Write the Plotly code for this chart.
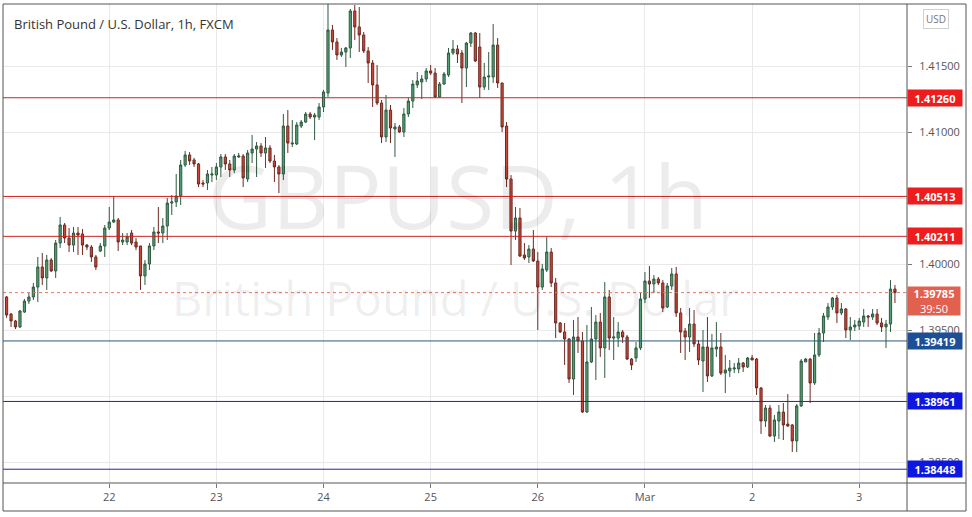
import plotly.graph_objects as go

# ---------------- data (GBPUSD 1h candles) ----------------
opens = [1.39752,1.39623,1.39570,1.39525,1.39638,1.39721,1.39752,1.39827,1.39979,1.39896,
1.40032,1.39949,1.40160,1.40297,1.40198,1.40145,1.40236,1.40229,1.40145,1.40130,
1.40055,1.40100,1.40138,1.40274,1.40319,1.40335,1.40168,1.40168,1.40236,1.40168,
1.40138,1.39911,1.40002,1.40138,1.40244,1.40236,1.40289,1.40463,1.40471,1.40516,
1.40751,1.40827,1.40789,1.40759,1.40615,1.40615,1.40675,1.40675,1.40736,1.40812,
1.40759,1.40713,1.40812,1.40819,1.40645,1.40842,1.40872,1.40895,1.40842,1.40880,
1.40781,1.40736,1.40683,1.41046,1.40910,1.40910,1.41046,1.41076,1.41137,1.41114,
1.41114,1.41190,1.41296,1.41773,1.41682,1.41584,1.41606,1.41637,1.41917,1.41796,
1.41735,1.41614,1.41523,1.41357,1.41220,1.40963,1.41167,1.41023,1.41039,1.41001,
1.41137,1.41235,1.41357,1.41379,1.41402,1.41463,1.41447,1.41266,1.41364,1.41432,
1.41599,1.41629,1.41599,1.41485,1.41674,1.41750,1.41644,1.41341,1.41417,1.41417,
1.41659,1.41372,1.41046,1.40645,1.40251,1.40350,1.40070,1.40055,1.40115,1.40024,
1.39827,1.39956,1.40092,1.39858,1.39555,1.39487,1.39434,1.39131,1.39449,1.39419,
1.38881,1.39260,1.39434,1.39562,1.39366,1.39752,1.39441,1.39441,1.39487,1.39449,
1.39282,1.39290,1.39366,1.39737,1.39873,1.39850,1.39888,1.39858,1.39676,1.39835,
1.39926,1.39631,1.39494,1.39449,1.39547,1.39396,1.39267,1.39373,1.39154,1.39358,
1.39373,1.39176,1.39192,1.39207,1.39207,1.39252,1.39222,1.39290,1.39282,1.39063,
1.38813,1.38911,1.38699,1.38813,1.38881,1.38790,1.38783,1.38662,1.38927,1.39260,
1.39282,1.39101,1.39313,1.39479,1.39600,1.39676,1.39744,1.39631,1.39661,1.39502,
1.39525,1.39532,1.39562,1.39608,1.39600,1.39623,1.39555,1.39525,1.39547,1.39812]

highs = [1.39759,1.39631,1.39578,1.39653,1.39737,1.39782,1.39858,1.40055,1.40085,1.40070,
1.40047,1.40183,1.40357,1.40312,1.40274,1.40282,1.40282,1.40266,1.40153,1.40145,
1.40070,1.40160,1.40297,1.40433,1.40516,1.40350,1.40236,1.40236,1.40259,1.40198,
1.40138,1.40032,1.40160,1.40282,1.40433,1.40350,1.40501,1.40524,1.40683,1.40789,
1.40857,1.40849,1.40804,1.40766,1.40637,1.40713,1.40736,1.40766,1.40834,1.40834,
1.40789,1.40834,1.40842,1.40834,1.40864,1.40978,1.40925,1.40917,1.40963,1.40902,
1.40827,1.40751,1.41137,1.41167,1.41092,1.41076,1.41092,1.41152,1.41152,1.41145,
1.41220,1.41319,1.41977,1.41811,1.41712,1.41637,1.41644,1.41932,1.41962,1.41947,
1.41758,1.41644,1.41546,1.41508,1.41243,1.41281,1.41205,1.41069,1.41054,1.41182,
1.41258,1.41394,1.41455,1.41432,1.41485,1.41508,1.41485,1.41379,1.41455,1.41637,
1.41697,1.41659,1.41621,1.41682,1.41758,1.41758,1.41750,1.41523,1.41606,1.41818,
1.41712,1.41372,1.41076,1.40675,1.40433,1.40425,1.40160,1.40145,1.40259,1.40092,
1.40002,1.40206,1.40123,1.39896,1.39562,1.39555,1.39441,1.39578,1.39600,1.39487,
1.39540,1.39676,1.39615,1.39631,1.39865,1.39805,1.39600,1.39562,1.39502,1.39464,
1.39290,1.39411,1.39782,1.39941,1.39986,1.39918,1.39903,1.39880,1.39858,1.39971,
1.39979,1.39668,1.39517,1.39668,1.39653,1.39426,1.39502,1.39600,1.39472,1.39562,
1.39479,1.39313,1.39275,1.39252,1.39290,1.39260,1.39298,1.39313,1.39290,1.39070,
1.38934,1.38934,1.38858,1.38934,1.38949,1.39017,1.38790,1.38942,1.39282,1.39290,
1.39290,1.39479,1.39517,1.39631,1.39706,1.39752,1.39767,1.39706,1.39668,1.39600,
1.39578,1.39593,1.39661,1.39615,1.39661,1.39661,1.39593,1.39578,1.39880,1.39843]

lows = [1.39593,1.39525,1.39509,1.39517,1.39631,1.39699,1.39729,1.39714,1.39843,1.39805,
1.39941,1.39896,1.40123,1.40160,1.40092,1.40092,1.40070,1.40070,1.40107,1.40017,
1.39956,1.40092,1.40055,1.40259,1.40312,1.40100,1.40145,1.40145,1.40145,1.40107,
1.39805,1.39843,1.39956,1.40107,1.40160,1.40160,1.40183,1.40372,1.40433,1.40448,
1.40736,1.40751,1.40736,1.40584,1.40584,1.40562,1.40622,1.40637,1.40660,1.40713,
1.40660,1.40690,1.40804,1.40584,1.40622,1.40766,1.40660,1.40812,1.40728,1.40766,
1.40622,1.40539,1.40637,1.40842,1.40887,1.40902,1.41031,1.41069,1.41099,1.40940,
1.41092,1.41152,1.41266,1.41621,1.41546,1.41569,1.41493,1.41561,1.41697,1.41606,
1.41599,1.41372,1.41190,1.41205,1.40917,1.40925,1.40917,1.40812,1.40993,1.40963,
1.41114,1.41182,1.41334,1.41251,1.41379,1.41432,1.41258,1.41258,1.41357,1.41417,
1.41584,1.41523,1.41220,1.41341,1.41644,1.41531,1.41258,1.41319,1.41319,1.41372,
1.41334,1.41001,1.40584,1.39994,1.40183,1.40055,1.40032,1.40009,1.40017,1.39502,
1.39805,1.39941,1.39827,1.39441,1.39479,1.39237,1.39101,1.39010,1.39328,1.38874,
1.38874,1.39252,1.39123,1.39298,1.39139,1.39350,1.39275,1.39373,1.39403,1.39275,
1.39199,1.39260,1.39350,1.39706,1.39744,1.39782,1.39843,1.39638,1.39668,1.39805,
1.39600,1.39328,1.39275,1.39335,1.39373,1.39237,1.39033,1.39108,1.39146,1.39298,
1.39161,1.39025,1.39146,1.39176,1.39176,1.39184,1.39214,1.39275,1.39010,1.38715,
1.38768,1.38692,1.38654,1.38677,1.38669,1.38768,1.38578,1.38578,1.38919,1.39260,
1.38949,1.39086,1.39298,1.39411,1.39578,1.39653,1.39555,1.39615,1.39441,1.39426,
1.39494,1.39502,1.39525,1.39525,1.39578,1.39540,1.39487,1.39366,1.39487,1.39706]

closes = [1.39615,1.39570,1.39525,1.39646,1.39721,1.39752,1.39827,1.39979,1.39896,1.40032,
1.39949,1.40160,1.40297,1.40198,1.40145,1.40236,1.40221,1.40145,1.40130,1.40055,
1.39979,1.40138,1.40274,1.40319,1.40335,1.40168,1.40183,1.40206,1.40160,1.40130,
1.39911,1.40002,1.40138,1.40244,1.40236,1.40289,1.40463,1.40471,1.40516,1.40751,
1.40827,1.40781,1.40759,1.40607,1.40607,1.40683,1.40683,1.40736,1.40812,1.40759,
1.40713,1.40819,1.40819,1.40653,1.40842,1.40872,1.40895,1.40842,1.40880,1.40781,
1.40736,1.40683,1.41046,1.40917,1.40917,1.41054,1.41076,1.41137,1.41114,1.41129,
1.41190,1.41304,1.41773,1.41682,1.41584,1.41606,1.41637,1.41917,1.41796,1.41735,
1.41614,1.41523,1.41357,1.41220,1.40963,1.41167,1.41031,1.41039,1.41001,1.41137,
1.41235,1.41364,1.41387,1.41402,1.41463,1.41447,1.41266,1.41364,1.41440,1.41599,
1.41629,1.41591,1.41485,1.41674,1.41750,1.41538,1.41341,1.41417,1.41425,1.41659,
1.41372,1.41039,1.40645,1.40251,1.40350,1.40062,1.40047,1.40115,1.40024,1.39827,
1.39964,1.40092,1.39858,1.39555,1.39487,1.39434,1.39131,1.39449,1.39419,1.38881,
1.39260,1.39434,1.39562,1.39366,1.39752,1.39441,1.39449,1.39487,1.39449,1.39282,
1.39237,1.39366,1.39737,1.39873,1.39850,1.39888,1.39858,1.39668,1.39835,1.39926,
1.39631,1.39487,1.39449,1.39547,1.39396,1.39275,1.39373,1.39154,1.39366,1.39373,
1.39176,1.39199,1.39214,1.39214,1.39252,1.39222,1.39290,1.39275,1.39063,1.38813,
1.38911,1.38699,1.38821,1.38881,1.38783,1.38775,1.38662,1.38927,1.39267,1.39282,
1.39101,1.39313,1.39479,1.39608,1.39676,1.39744,1.39631,1.39661,1.39502,1.39525,
1.39540,1.39570,1.39608,1.39600,1.39623,1.39555,1.39525,1.39547,1.39812,1.39785]

day_tick_bars = [23, 47, 71, 95, 119, 143, 167, 191]
day_tick_labels = ["22", "23", "24", "25", "26", "Mar", "2", "3"]

price_ticks = [1.385, 1.390, 1.395, 1.400, 1.405, 1.410, 1.415]

resistance_levels = [1.41260, 1.40513, 1.40211]
pivot_level = 1.39419
support_levels = [1.38961, 1.38448]
last_price = 1.39785
countdown = "39:50"

title_text = "British Pound / U.S. Dollar, 1h, FXCM"
watermark_symbol = "GBPUSD, 1h"
watermark_name = "British Pound / U.S. Dollar"

# ---------------- figure ----------------
W, H = 972, 517
ML, MR, MT, MB = 3, 65, 4, 34
PW = W - ML - MR
PH = H - MT - MB

bars = list(range(len(opens)))

fig = go.Figure()

fig.add_trace(go.Candlestick(
    x=bars, open=opens, high=highs, low=lows, close=closes,
    increasing=dict(fillcolor="#53a073", line=dict(color="#2f5a40", width=1)),
    decreasing=dict(fillcolor="#c9493a", line=dict(color="#6e2a22", width=1)),
    whiskerwidth=0,
    hoverinfo="skip", showlegend=False,
))

shapes = []
annotations = []

RED_LINE = "#cc2020"
RED_BOX = "#ee1c1c"
for lv in resistance_levels:
    shapes.append(dict(type="line", xref="paper", yref="y", x0=0, x1=1, y0=lv, y1=lv,
                       line=dict(color=RED_LINE, width=1), layer="above"))
    annotations.append(dict(xref="paper", yref="y", x=1, y=lv, xanchor="left", yanchor="middle",
                            text="<b>%.5f</b>" % lv, showarrow=False, bgcolor=RED_BOX,
                            font=dict(color="white", size=11, family="Open Sans"),
                            width=50, height=12, borderpad=2, align="center"))

shapes.append(dict(type="line", xref="paper", yref="y", x0=0, x1=1, y0=pivot_level, y1=pivot_level,
                   line=dict(color="#245a72", width=1), layer="above"))
annotations.append(dict(xref="paper", yref="y", x=1, y=pivot_level, xanchor="left", yanchor="middle",
                        text="<b>%.5f</b>" % pivot_level, showarrow=False, bgcolor="#1d4f96",
                        font=dict(color="white", size=11, family="Open Sans"),
                        width=50, height=12, borderpad=2, align="center"))

for lv in support_levels:
    shapes.append(dict(type="line", xref="paper", yref="y", x0=0, x1=1, y0=lv, y1=lv,
                       line=dict(color="#2424a0", width=1), layer="above"))
    annotations.append(dict(xref="paper", yref="y", x=1, y=lv, xanchor="left", yanchor="middle",
                            text="<b>%.5f</b>" % lv, showarrow=False, bgcolor="#0d17e0",
                            font=dict(color="white", size=11, family="Open Sans"),
                            width=50, height=12, borderpad=2, align="center"))

# last price dotted line + label
shapes.append(dict(type="line", xref="paper", yref="y", x0=0, x1=1, y0=last_price, y1=last_price,
                   line=dict(color="#e07a66", width=1, dash="dot"), layer="above"))
annotations.append(dict(xref="paper", yref="y", x=1, y=last_price, xanchor="left", yanchor="top",
                        yshift=7,
                        text="<b>%.5f</b><br>%s" % (last_price, countdown), showarrow=False,
                        bgcolor="#e2604e",
                        font=dict(color="white", size=11, family="Open Sans"),
                        width=50, height=26, borderpad=1, align="center"))

# frame
px = lambda p: (p - ML) / PW
py = lambda p: (H - MB - p) / PH
FRAME = "#555555"
shapes.append(dict(type="rect", xref="paper", yref="paper", x0=0, x1=px(966), y0=py(511), y1=1,
                   line=dict(color=FRAME, width=1)))
shapes.append(dict(type="line", xref="paper", yref="paper", x0=0, x1=px(966), y0=0, y1=0,
                   line=dict(color=FRAME, width=1)))
shapes.append(dict(type="line", xref="paper", yref="paper", x0=1, x1=1, y0=py(511), y1=1,
                   line=dict(color=FRAME, width=1)))

# title
annotations.append(dict(xref="paper", yref="paper", x=px(12), y=1, xanchor="left", yanchor="top",
                        yshift=-9, text=title_text, showarrow=False,
                        font=dict(color="#333333", size=13, family="Open Sans")))
# currency box
annotations.append(dict(xref="paper", yref="paper", x=px(936), y=py(19), xanchor="center",
                        yanchor="middle", text="USD", showarrow=False,
                        font=dict(color="#777777", size=10, family="Open Sans"),
                        bordercolor="#d0d0d0", borderwidth=1, borderpad=2))
# watermark
annotations.append(dict(xref="paper", yref="paper", x=px(458), y=py(195), xanchor="center",
                        yanchor="middle", text=watermark_symbol, showarrow=False,
                        font=dict(color="rgba(0,0,0,0.075)", size=88, family="Open Sans")))
annotations.append(dict(xref="paper", yref="paper", x=px(455), y=py(298), xanchor="center",
                        yanchor="middle", text=watermark_name, showarrow=False,
                        font=dict(color="rgba(0,0,0,0.075)", size=47, family="Open Sans")))

y_lo = 1.42 - 483 / 13210
y_hi = 1.42 - 4 / 13210

fig.update_layout(
    width=W, height=H, autosize=False,
    margin=dict(l=ML, r=MR, t=MT, b=MB, pad=0),
    paper_bgcolor="white", plot_bgcolor="white",
    shapes=shapes, annotations=annotations,
    showlegend=False,
    hovermode=False,
    xaxis=dict(
        range=[-0.8, 201.7], rangeslider=dict(visible=False),
        tickmode="array", tickvals=day_tick_bars, ticktext=day_tick_labels,
        showgrid=True, gridcolor="#e9e9e9", gridwidth=1,
        zeroline=False, showline=False,
        ticks="outside", ticklen=4, tickcolor="#777777",
        tickfont=dict(size=11, color="#555555", family="Open Sans"),
    ),
    yaxis=dict(
        range=[y_lo, y_hi], side="right",
        tickmode="array", tickvals=price_ticks,
        ticktext=["%.5f" % t for t in price_ticks],
        showgrid=True, gridcolor="#e9e9e9", gridwidth=1,
        zeroline=False, showline=False,
        ticks="outside", ticklen=4, tickcolor="#777777",
        ticklabelstandoff=5,
        tickfont=dict(size=11, color="#555555", family="Open Sans"),
    ),
)

fig.write_html(
    "out.html",
    config={"displayModeBar": False},
    post_script="document.body.style.margin='0';document.body.style.padding='0';",
)
